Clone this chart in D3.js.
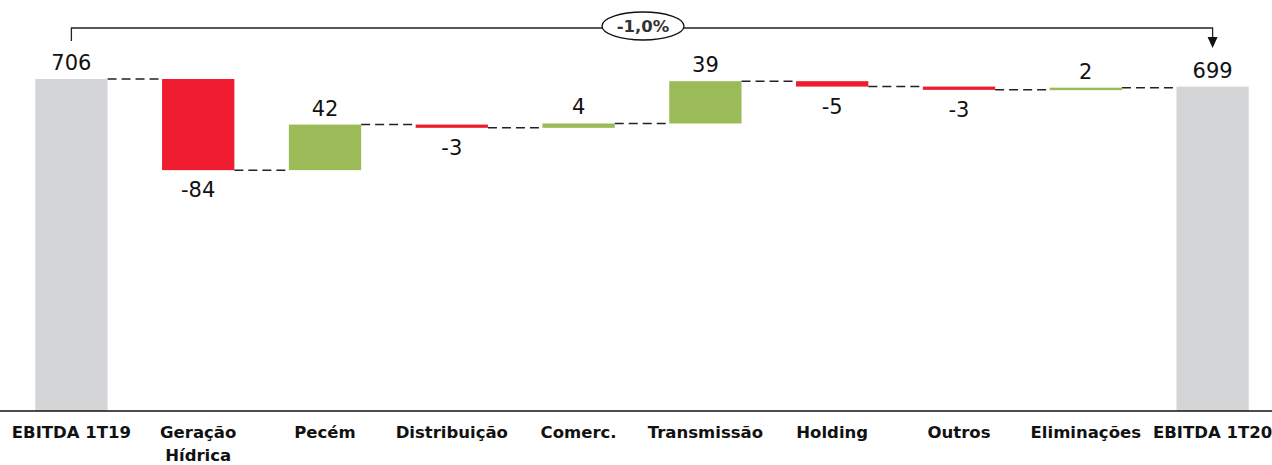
<!DOCTYPE html>
<html lang="pt">
<head>
<meta charset="UTF-8">
<title>EBITDA 1T19 - 1T20</title>
<style>
    body { margin: 0; background: #fff; }
    svg { display: block; font-family: 'DejaVu Sans', Arial, sans-serif; }
    .val { font-size: 21px; fill: #111; }
    .cat { font-size: 16.5px; font-weight: bold; fill: #111; }
</style>
<script src="https://cdn.jsdelivr.net/npm/d3@7"></script>
</head>
<body>
<div id="chart"></div>
<script>
    const width = 1272;
    const height = 465;

    // data
    const categories = ["EBITDA 1T19", "Geração\nHídrica", "Pecém", "Distribuição", "Comerc.",
        "Transmissão", "Holding", "Outros", "Eliminações", "EBITDA 1T20"];
    const values = [706, -84, 42, -3, 4, 39, -5, -3, 2, 699];
    const kinds = ["total", "delta", "delta", "delta", "delta", "delta", "delta", "delta", "delta", "total"];
    const variationLabel = "-1,0%";

    const colors = { total: "#d4d5d7", up: "#9bbb59", down: "#ee1c2e" };

    // build running totals
    let running = 0;
    const bars = categories.map((c, i) => {
        const v = values[i];
        let y0, y1, type;
        if (kinds[i] === "total") {
            y0 = 400; y1 = v; running = v; type = "total";
        } else {
            y0 = running; y1 = running + v; running = y1; type = v >= 0 ? "up" : "down";
        }
        return { cat: c, value: v, y0, y1, type, level: running };
    });

    const x = d3.scaleBand()
        .domain(categories)
        .range([8, 1276])
        .paddingInner(0.43)
        .paddingOuter(0.215);

    const y = d3.scaleLinear()
        .domain([400, 706])
        .range([411, 79]);

    const svg = d3.select("#chart").append("svg")
        .attr("width", width)
        .attr("height", height);

    // connectors
    bars.slice(0, -1).forEach((d, i) => {
        const next = bars[i + 1];
        svg.append("line")
            .attr("x1", x(d.cat) + x.bandwidth())
            .attr("x2", x(next.cat))
            .attr("y1", y(d.level))
            .attr("y2", y(d.level))
            .attr("stroke", "#222")
            .attr("stroke-width", 1.5)
            .attr("stroke-dasharray", "9,5");
    });

    // bars
    svg.selectAll("rect.bar")
        .data(bars)
        .join("rect")
        .attr("class", "bar")
        .attr("x", d => x(d.cat))
        .attr("width", x.bandwidth())
        .attr("y", d => y(Math.max(d.y0, d.y1)))
        .attr("height", d => Math.max(2.5, Math.abs(y(d.y0) - y(d.y1))))
        .attr("fill", d => colors[d.type]);

    // value labels
    svg.selectAll("text.val")
        .data(bars)
        .join("text")
        .attr("class", "val")
        .attr("text-anchor", "middle")
        .attr("x", d => x(d.cat) + x.bandwidth() / 2)
        .attr("y", d => d.type === "down"
            ? y(Math.min(d.y0, d.y1)) + 27
            : y(Math.max(d.y0, d.y1)) - 9)
        .text(d => d.value);

    // axis line
    svg.append("line")
        .attr("x1", 0).attr("x2", width)
        .attr("y1", 411).attr("y2", 411)
        .attr("stroke", "#111")
        .attr("stroke-width", 1.5);

    // category labels
    const catText = svg.selectAll("text.cat")
        .data(categories)
        .join("text")
        .attr("class", "cat")
        .attr("text-anchor", "middle")
        .attr("x", d => x(d) + x.bandwidth() / 2)
        .attr("y", 438);
    catText.selectAll("tspan")
        .data(d => d.split("\n").map(t => ({ t, cx: x(d) + x.bandwidth() / 2 })))
        .join("tspan")
        .attr("x", d => d.cx)
        .attr("dy", (d, i) => i === 0 ? 0 : 23)
        .text(d => d.t);

    // variation bracket
    const xl = x(categories[0]) + x.bandwidth() / 2;
    const xr = x(categories[categories.length - 1]) + x.bandwidth() / 2;
    const bracketY = 28;
    svg.append("path")
        .attr("d", `M${xl},41V${bracketY}H${xr}V38`)
        .attr("fill", "none")
        .attr("stroke", "#222")
        .attr("stroke-width", 1.3);
    svg.append("path")
        .attr("d", `M${xr - 5},37L${xr + 5},37L${xr},48Z`)
        .attr("fill", "#111");

    const cx = 643;
    svg.append("ellipse")
        .attr("cx", cx).attr("cy", 26)
        .attr("rx", 41).attr("ry", 14)
        .attr("fill", "#fff")
        .attr("stroke", "#111")
        .attr("stroke-width", 1.3);
    svg.append("text")
        .attr("x", cx).attr("y", 32)
        .attr("text-anchor", "middle")
        .attr("font-size", 16.5)
        .attr("font-weight", "bold")
        .attr("fill", "#333")
        .text(variationLabel);
</script>
</body>
</html>
